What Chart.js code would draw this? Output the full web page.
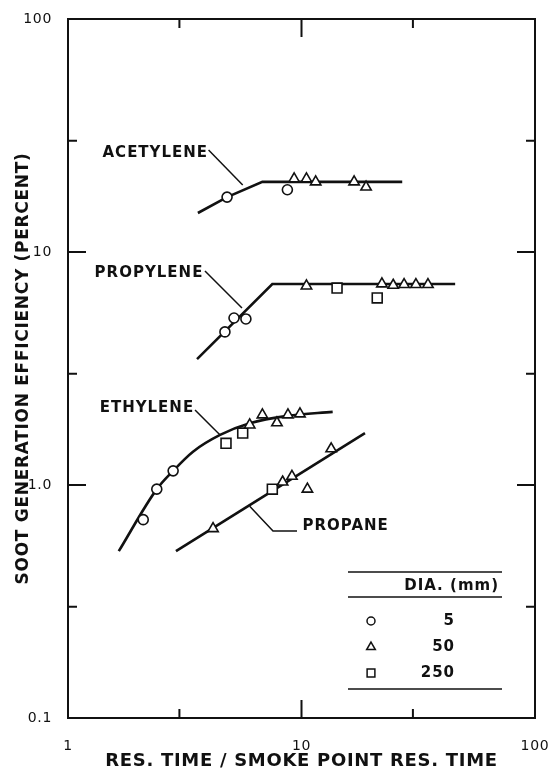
<!DOCTYPE html>
<html>
<head>
<meta charset="utf-8">
<script src="https://cdn.jsdelivr.net/npm/chart.js@4.4.1/dist/chart.umd.min.js"></script>
<style>
    html, body { margin: 0; padding: 0; background: #fff; }
</style>
</head>
<body>
<canvas id="chart" width="550" height="775"></canvas>
<script>
// Values. x = res. time / smoke point res. time, y = percent.

// fitted curves
const acetyleneCurveX = [3.6, 4.8, 6.8, 27];
const acetyleneCurveY = [14.7, 17.2, 20.0, 20.0];
const propyleneCurveX = [3.57, 7.5, 45.5];
const propyleneCurveY = [3.47, 7.29, 7.29];
const ethyleneCurveX = [1.65, 2.4, 2.82, 3.43, 4.48, 6.0, 8.7, 13.6];
const ethyleneCurveY = [0.52, 0.96, 1.15, 1.39, 1.64, 1.84, 1.98, 2.06];
const propaneCurveX = [2.9, 18.7];
const propaneCurveY = [0.52, 1.67];

// measured points, grouped by burner diameter
const dia5X = [4.8, 8.7, 4.7, 5.14, 5.78, 2.1, 2.4, 2.82];
const dia5Y = [17.2, 18.5, 4.54, 5.21, 5.16, 0.71, 0.96, 1.15];
const dia50X = [9.3, 10.5, 11.5, 16.8, 18.9, 10.5, 22.1, 24.7, 27.5, 30.9, 34.8,
    6.0, 6.8, 7.85, 8.75, 9.85, 4.18, 8.3, 9.1, 10.6, 13.4];
const dia50Y = [20.6, 20.6, 20.0, 20.0, 19.0, 7.15, 7.3, 7.2, 7.25, 7.25, 7.25,
    1.81, 2.0, 1.85, 2.0, 2.02, 0.65, 1.03, 1.09, 0.96, 1.43];
const dia250X = [14.2, 21.1, 4.75, 5.6, 7.5];
const dia250Y = [7.0, 6.35, 1.51, 1.67, 0.96];

// axes
const xTickValues = [1, 10, 100];
const xTickLabels = ["1", "10", "100"];
const yTickValues = [0.1, 1, 10, 100];
const yTickLabels = ["0.1", "1.0", "10", "100"];
const xMarkValues = [3, 10, 30];
const yMarkValues = [0.3, 1, 3, 10, 30];

const gasNames = ["ACETYLENE", "PROPYLENE", "ETHYLENE", "PROPANE"];
const legendTitle = "DIA. (mm)";
const legendSizes = ["5", "50", "250"];
const legendStyles = ["circle", "triangle", "rect"];

const INK = "#111";
const FONT = "'DejaVu Sans', sans-serif";

const zip = (xs, ys) => xs.map((x, i) => ({ x, y: ys[i] }));

// where each gas name sits (data units) and its leader line
const gasLabelPlaces = {
    ACETYLENE: { at: [3.98, 26.6], align: "right", leader: [[4.0, 27.4], [5.6, 19.4]] },
    PROPYLENE: { at: [3.8, 8.13], align: "right", leader: [[3.86, 8.29], [5.56, 5.75]] },
    ETHYLENE: { at: [3.47, 2.14], align: "right", leader: [[3.5, 2.1], [4.48, 1.64]] },
    PROPANE: { at: [10.1, 0.667], align: "left", leader: [[6.0, 0.81], [7.55, 0.635], [9.57, 0.635]] },
};

function markerSet(label, xs, ys, style, radius) {
    return {
        label,
        data: zip(xs, ys),
        pointStyle: style,
        pointRadius: radius,
        pointBackgroundColor: "#fff",
        pointBorderColor: INK,
        pointBorderWidth: 1.6,
        showLine: false,
    };
}

function curveSet(label, xs, ys, smooth) {
    return {
        label,
        data: zip(xs, ys),
        showLine: true,
        borderColor: INK,
        borderWidth: 2.6,
        pointRadius: 0,
        cubicInterpolationMode: smooth ? "monotone" : "default",
        tension: 0,
    };
}

const isDecade = (v) => Math.abs(Math.log10(v) - Math.round(Math.log10(v))) < 1e-9;

const paperPlugin = {
    id: "paper",
    beforeDraw(chart) {
        chart.ctx.letterSpacing = "0.7px";
    },
    beforeDatasetsDraw(chart) {
        const { ctx, chartArea: a, scales } = chart;
        ctx.save();
        ctx.strokeStyle = INK;
        ctx.lineWidth = 2;
        ctx.strokeRect(a.left, a.top, a.right - a.left, a.bottom - a.top);
        ctx.beginPath();
        xMarkValues.forEach((v) => {
            const px = scales.x.getPixelForValue(v);
            const len = isDecade(v) ? 18 : 9;
            ctx.moveTo(px, a.bottom);
            ctx.lineTo(px, a.bottom - len);
            ctx.moveTo(px, a.top);
            ctx.lineTo(px, a.top + len);
        });
        yMarkValues.forEach((v) => {
            const py = scales.y.getPixelForValue(v);
            const len = isDecade(v) ? 18 : 9;
            ctx.moveTo(a.left, py);
            ctx.lineTo(a.left + len, py);
            ctx.moveTo(a.right, py);
            ctx.lineTo(a.right - len, py);
        });
        ctx.stroke();
        ctx.restore();
    },
    afterDatasetsDraw(chart) {
        const { ctx, chartArea: a, scales } = chart;
        const px = (v) => scales.x.getPixelForValue(v);
        const py = (v) => scales.y.getPixelForValue(v);
        ctx.save();
        ctx.fillStyle = INK;
        ctx.strokeStyle = INK;
        ctx.letterSpacing = "1px";
        ctx.font = `bold 15px ${FONT}`;
        ctx.textBaseline = "middle";

        // gas names with leader lines
        gasNames.forEach((name) => {
            const place = gasLabelPlaces[name];
            ctx.textAlign = place.align;
            ctx.fillText(name, px(place.at[0]), py(place.at[1]));
            ctx.lineWidth = 1.5;
            ctx.beginPath();
            place.leader.forEach(([x, y], i) => {
                if (i === 0) {
                    ctx.moveTo(px(x), py(y));
                } else {
                    ctx.lineTo(px(x), py(y));
                }
            });
            ctx.stroke();
        });

        // diameter key, drawn as a small ruled table
        const left = a.right - 187;
        const right = a.right - 33;
        const rule = (y) => {
            ctx.beginPath();
            ctx.moveTo(left, y);
            ctx.lineTo(right, y);
            ctx.stroke();
        };
        ctx.lineWidth = 1.5;
        rule(a.bottom - 146);
        rule(a.bottom - 121);
        rule(a.bottom - 29);
        ctx.textAlign = "right";
        ctx.fillText(legendTitle, a.right - 36, a.bottom - 132);
        legendSizes.forEach((size, i) => {
            const y = a.bottom - 97 + i * 26;
            ctx.fillText(size, a.right - 80, y);
            ctx.fillStyle = "#fff";
            ctx.lineWidth = 1.5;
            const radius = legendStyles[i] === "circle" ? 4 : legendStyles[i] === "triangle" ? 5 : 5.5;
            Chart.helpers.drawPoint(ctx, { pointStyle: legendStyles[i], radius, rotation: 0, borderWidth: 1.5 },
                a.right - 164, y);
            ctx.fillStyle = INK;
        });
        ctx.restore();
    },
};

new Chart(document.getElementById("chart"), {
    type: "scatter",
    data: {
        datasets: [
            markerSet("5 mm", dia5X, dia5Y, "circle", 5),
            markerSet("50 mm", dia50X, dia50Y, "triangle", 6),
            markerSet("250 mm", dia250X, dia250Y, "rect", 7),
            curveSet(gasNames[0], acetyleneCurveX, acetyleneCurveY, false),
            curveSet(gasNames[1], propyleneCurveX, propyleneCurveY, false),
            curveSet(gasNames[2], ethyleneCurveX, ethyleneCurveY, true),
            curveSet(gasNames[3], propaneCurveX, propaneCurveY, false),
        ],
    },
    options: {
        responsive: false,
        animation: false,
        layout: { padding: { top: 19, right: 15, left: 0, bottom: 0 } },
        plugins: {
            legend: { display: false },
            tooltip: { enabled: false },
        },
        scales: {
            x: {
                type: "logarithmic",
                min: 1,
                max: 100,
                grid: { display: false },
                border: { display: false },
                afterBuildTicks: (scale) => {
                    scale.ticks = xTickValues.map((value) => ({ value }));
                },
                afterFit: (scale) => {
                    scale.height = 57;
                    scale.paddingLeft = 0;
                    scale.paddingRight = 0;
                },
                ticks: {
                    color: INK,
                    font: { family: FONT, size: 14 },
                    padding: 12,
                    maxRotation: 0,
                    autoSkip: false,
                    callback: (value) => xTickLabels[xTickValues.indexOf(value)],
                },
                title: {
                    display: true,
                    text: "RES. TIME / SMOKE POINT RES. TIME",
                    color: INK,
                    font: { family: FONT, size: 18, weight: "bold" },
                    padding: { top: 0, bottom: 3 },
                },
            },
            y: {
                type: "logarithmic",
                min: 0.1,
                max: 100,
                grid: { display: false },
                border: { display: false },
                afterBuildTicks: (scale) => {
                    scale.ticks = yTickValues.map((value) => ({ value }));
                },
                afterFit: (scale) => {
                    scale.width = 68;
                    scale.paddingTop = 0;
                    scale.paddingBottom = 0;
                },
                ticks: {
                    color: INK,
                    font: { family: FONT, size: 14 },
                    padding: 8,
                    autoSkip: false,
                    callback: (value) => yTickLabels[yTickValues.indexOf(value)],
                },
                title: {
                    display: true,
                    text: "SOOT GENERATION EFFICIENCY (PERCENT)",
                    color: INK,
                    font: { family: FONT, size: 17, weight: "bold" },
                    padding: { top: 13, bottom: 0 },
                },
            },
        },
    },
    plugins: [paperPlugin],
});
</script>
</body>
</html>
